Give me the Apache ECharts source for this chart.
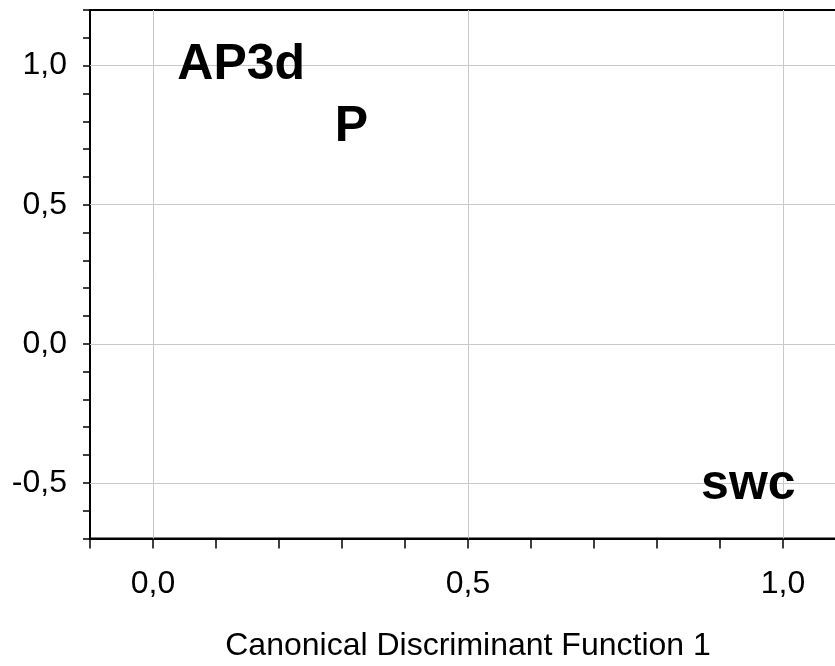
<!DOCTYPE html>
<html>
<head>
<meta charset="utf-8">
<script src="https://cdn.jsdelivr.net/npm/echarts@6/dist/echarts.min.js"></script>
<style>html,body{margin:0;padding:0;background:#fff;}#c{width:835px;height:666px;}</style>
</head>
<body>
<div id="c"></div>
<script>
// Data
var pointLabels = ['AP3d', 'P', 'swc'];
var pointX = [0.14, 0.315, 0.945];
var pointY = [1.0, 0.78, -0.51];
var gridLinesX = [0.0, 0.5, 1.0];
var gridLinesY = [-0.5, 0.0, 0.5, 1.0];
var xTitle = 'Canonical Discriminant Function 1';

function fmt(v) {
  var t = Math.round(v * 10);
  if (t % 5 !== 0) return '';
  return (t / 10).toFixed(1).replace('.', ',');
}

var chart = echarts.init(document.getElementById('c'), null, {renderer: 'canvas'});
var FONT = '"Liberation Sans", Arial, sans-serif';

var mlData = [];
gridLinesX.forEach(function (v) { mlData.push({xAxis: v}); });
gridLinesY.forEach(function (v) { mlData.push({yAxis: v}); });

chart.setOption({
  animation: false,
  backgroundColor: '#fff',
  grid: {
    left: 90, top: 10, right: -11, bottom: 127.5,
    outerBoundsMode: 'none', containLabel: false,
    show: true, borderColor: '#000', borderWidth: 2, backgroundColor: 'transparent'
  },
  xAxis: {
    type: 'value', min: -0.1, max: 1.1, interval: 0.1,
    name: xTitle, nameLocation: 'middle', nameGap: 92,
    nameTextStyle: {fontFamily: FONT, fontSize: 32, color: '#000'},
    axisLine: {show: true, onZero: false, lineStyle: {color: '#000', width: 2}},
    axisTick: {show: true, inside: false, length: 10, lineStyle: {color: '#000', width: 1.5}},
    axisLabel: {formatter: fmt, fontFamily: FONT, fontSize: 32, color: '#000', margin: 30, showMinLabel: true, showMaxLabel: true},
    splitLine: {show: false}
  },
  yAxis: {
    type: 'value', min: -0.7, max: 1.2, interval: 0.1,
    axisLine: {show: true, onZero: false, lineStyle: {color: '#000', width: 2}},
    axisTick: {show: true, inside: false, length: 7, lineStyle: {color: '#000', width: 1.5}},
    axisLabel: {formatter: fmt, fontFamily: FONT, fontSize: 32, color: '#000', margin: 23},
    splitLine: {show: false}
  },
  series: [{
    type: 'scatter',
    symbolSize: 0,
    itemStyle: {opacity: 1},
    data: pointLabels.map(function (n, i) { return {name: n, value: [pointX[i], pointY[i]]}; }),
    label: {
      show: true, position: 'inside', formatter: '{b}', opacity: 1,
      fontFamily: FONT, fontWeight: 'bold', fontSize: 50, color: '#000'
    },
    markLine: {
      silent: true, symbol: 'none', z: 1,
      label: {show: false},
      lineStyle: {color: '#c8c8c8', width: 1, type: 'solid', opacity: 1},
      data: mlData
    },
    z: 5
  }]
});
</script>
</body>
</html>
